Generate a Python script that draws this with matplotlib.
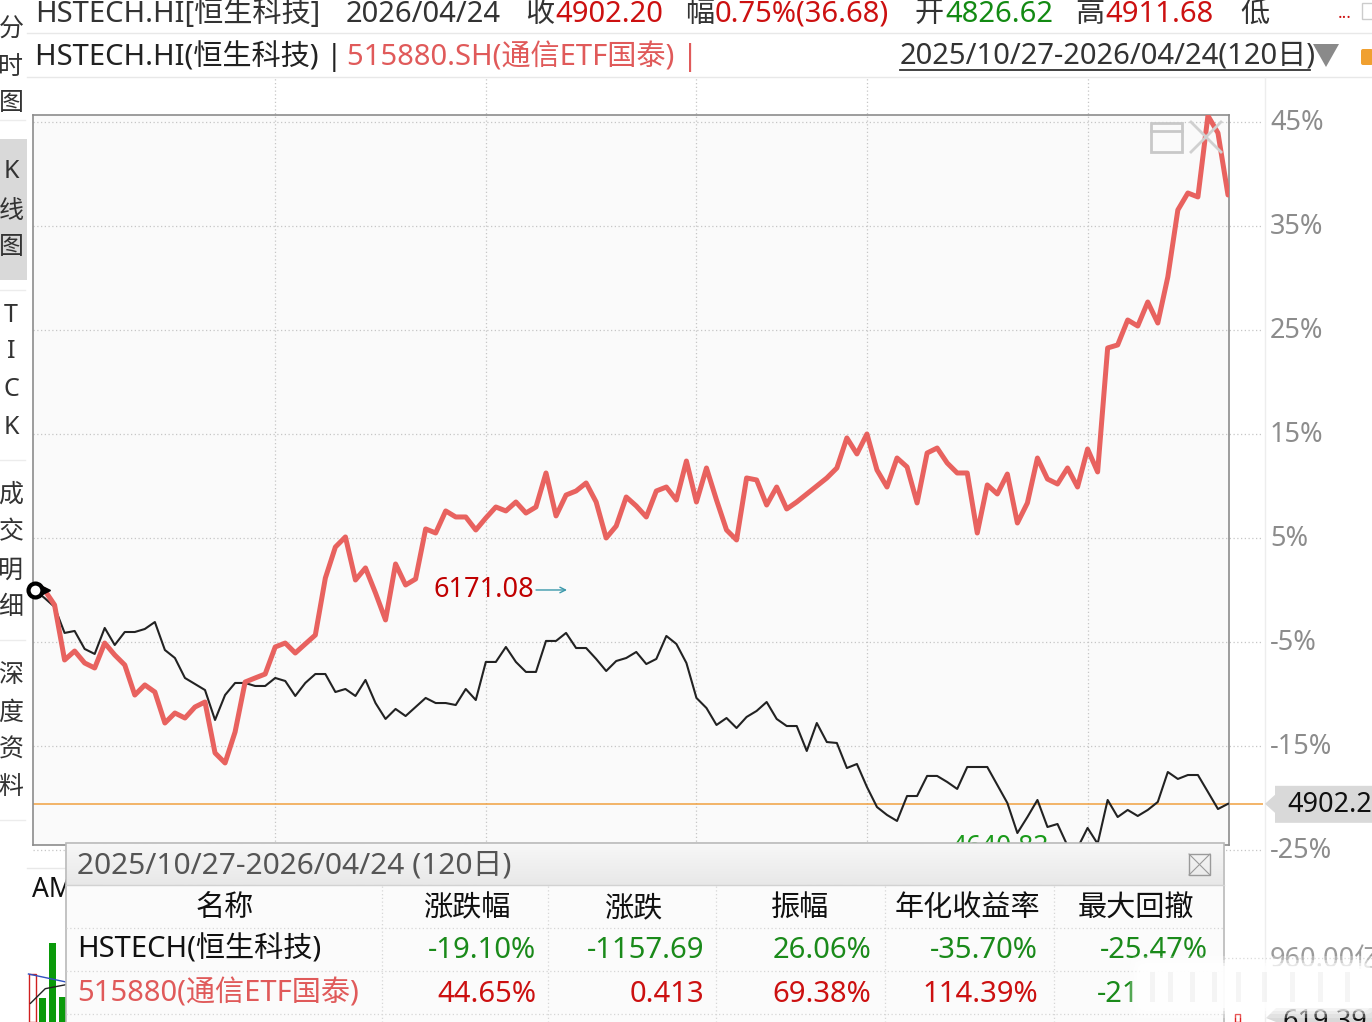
import matplotlib
matplotlib.use("Agg")
import matplotlib.pyplot as plt
import matplotlib.patches as mpatches
from matplotlib.colors import LinearSegmentedColormap
import numpy as np

plt.rcParams['font.family'] = ['Noto Sans', 'Noto Sans CJK SC', 'DejaVu Sans']

W, H = 1372, 1022

# ---------------------------------------------------------------- data
base_close = 6171.08      # HSTECH close on first day (0% line)
last_close = 4902.2
low_close = 4640.83

# HSTECH (恒生科技) cumulative change in %, 120 trading days
hstech_pct = [
    0.00, -0.77, -1.63, -4.13, -3.94, -5.67, -6.15, -3.65, -5.29, -4.04,
    -4.04, -3.75, -3.08, -5.77, -6.54, -8.46, -9.04, -9.62, -12.50, -10.10,
    -8.94, -8.94, -9.23, -9.23, -8.46, -8.75, -10.19, -8.94, -8.08, -8.08,
    -9.81, -9.52, -10.19, -8.65, -10.87, -12.40, -11.44, -12.12, -11.25, -10.38,
    -10.87, -10.87, -11.06, -9.52, -10.58, -6.92, -6.92, -5.48, -6.92, -7.88,
    -7.88, -4.90, -4.90, -4.13, -5.58, -5.58, -6.63, -7.79, -6.83, -6.54,
    -5.96, -7.12, -6.63, -4.42, -5.19, -7.02, -10.38, -11.35, -12.98, -12.31,
    -13.27, -12.21, -11.63, -10.77, -12.40, -13.08, -13.08, -15.48, -12.79, -14.62,
    -14.71, -17.12, -16.73, -18.94, -20.87, -21.63, -22.21, -19.81, -19.81, -17.88,
    -17.88, -18.46, -19.13, -17.02, -17.02, -17.02, -18.75, -20.48, -23.37, -21.83,
    -20.19, -22.79, -22.50, -24.60, -24.80, -22.88, -24.40, -20.19, -21.83, -21.15,
    -21.73, -21.15, -20.38, -17.50, -18.17, -17.79, -17.79, -19.42, -21.06, -20.56,
]

# 515880.SH (通信ETF国泰) cumulative change in %, from day 2
etf_pct = [
    0.00, -1.44, -6.73, -5.87, -7.02, -7.50, -5.10, -6.25, -7.21,
    -10.10, -9.13, -9.81, -12.79, -11.83, -12.31, -11.25, -10.77, -15.67, -16.63,
    -13.65, -8.85, -8.46, -8.08, -5.48, -5.10, -6.06, -5.19, -4.33, 1.15,
    4.13, 5.10, 0.96, 2.12, -0.29, -2.88, 2.50, 0.48, 1.06, 5.87,
    5.48, 7.60, 7.02, 7.02, 5.77, 6.92, 7.98, 7.60, 8.46, 7.40,
    7.98, 11.25, 7.12, 9.13, 9.52, 10.29, 8.46, 5.00, 6.15, 8.94,
    8.08, 7.02, 9.52, 9.90, 8.65, 12.40, 8.46, 11.73, 8.65, 5.77,
    4.81, 10.77, 10.58, 8.17, 9.90, 7.79, 8.46, 9.23, 10.00, 10.77,
    11.73, 14.62, 13.08, 15.00, 11.54, 9.90, 12.69, 11.83, 8.37, 13.17,
    13.65, 12.21, 11.25, 11.25, 5.48, 10.10, 9.23, 11.15, 6.44, 8.37,
    12.69, 10.67, 10.19, 11.73, 9.90, 13.56, 11.35, 23.27, 23.56, 25.96,
    25.38, 27.69, 25.67, 30.10, 36.54, 38.17, 37.79, 45.60, 43.94, 37.98,
]

month_start_idx = [24, 45, 66, 83, 105]
grid_pct = [45, 35, 25, 15, 5, -5, -15, -25]

quote_labels = ['收', '幅', '开', '高', '低']
quote_values = ['4902.20', '0.75%(36.68)', '4826.62', '4911.68', '']

table_cols = ['名称', '涨跌幅', '涨跌', '振幅', '年化收益率', '最大回撤']
row_names = ['HSTECH(恒生科技)', '515880(通信ETF国泰)']
row_hstech = ['-19.10%', '-1157.69', '26.06%', '-35.70%', '-25.47%']
row_etf = ['44.65%', '0.413', '69.38%', '114.39%', '-21']

vol_vals = [720, 360, 1185, 375]
vol_colors = ['red', 'green', 'green', 'green']

# ---------------------------------------------------------------- figure
fig = plt.figure(figsize=(W / 100, H / 100), dpi=100, facecolor='white')

bg = fig.add_axes([0, 0, 1, 1], zorder=0)
bg.set_xlim(0, W)
bg.set_ylim(H, 0)
bg.axis('off')

# main chart frame: x 33..1229, y 115..845 (pixels)
PL, PR, PT, PB = 33, 1229, 115, 845
ax = fig.add_axes([PL / W, 1 - PB / H, (PR - PL) / W, (PB - PT) / H], zorder=1)
ax.set_facecolor('#fafafa')
xlo, xhi = -0.15, 119.1
ylo, yhi = -24.52, 45.67
ax.set_xlim(xlo, xhi)
ax.set_ylim(ylo, yhi)
ax.set_xticks([])
ax.set_yticks([])
for s in ax.spines.values():
    s.set_color('#8c8c8c')
    s.set_linewidth(1.2)


def px_to_idx(px):
    return xlo + (px - PL) / (PR - PL) * (xhi - xlo)


def pct_to_py(v):
    return PT + (yhi - v) / (yhi - ylo) * (PB - PT)


def py_to_pct(py):
    return yhi - (py - PT) / (PB - PT) * (yhi - ylo)


x_all = np.arange(len(hstech_pct))
x_etf = np.arange(1, len(etf_pct) + 1)

# grid
ax.hlines(grid_pct, xlo, px_to_idx(1263), colors='#c6c6c6', linestyles=(0, (1, 2)),
          lw=0.9, clip_on=False, zorder=1)
ax.vlines(month_start_idx, ylo, py_to_pct(77), colors='#c6c6c6', linestyles=(0, (1, 2)),
          lw=0.9, clip_on=False, zorder=1)

# last price line
ax.hlines(hstech_pct[-1], xlo, px_to_idx(1263), colors='#f0a040', lw=1.1,
          clip_on=False, zorder=2)

ax.plot(x_all, hstech_pct, color='#222222', lw=1.5, zorder=3)
ax.plot(x_etf, etf_pct, color='#e8625f', lw=3.6, zorder=4, solid_capstyle='round')

ax.plot([0], [hstech_pct[0]], 'o', ms=10, mfc='white', mec='black', mew=3,
        clip_on=False, zorder=6)
ax.plot([1.1], [0], marker='>', ms=6, color='black', zorder=6)

ax.text(px_to_idx(433), 0, f'{base_close:.2f}', color='#c00000', fontsize=19.5,
        va='center', ha='left', zorder=5)
ax.annotate('', xy=(px_to_idx(567), 0), xytext=(px_to_idx(536), 0),
            arrowprops=dict(arrowstyle='->', color='#3a98aa', lw=1.0,
                            shrinkA=0, shrinkB=0), zorder=5)
i_low = int(np.argmin(hstech_pct))
ax.text(i_low - 2.9, hstech_pct[i_low], f'{low_close:.2f}', color='#1a9a1a',
        fontsize=19, va='center', ha='right', clip_on=False, zorder=5)

# ---------------------------------------------------------------- background decorations
bg.plot([27, W], [33, 33], color='#e8e8e8', lw=1)
bg.plot([27, W], [77, 77], color='#e8e8e8', lw=1)
bg.plot([1265, 1265], [77, H], color='#ededed', lw=1)
bg.plot([27, 66], [868, 868], color='#e8e8e8', lw=1)
bg.plot([1224, W], [958, 958], color='#cfcfcf', lw=0.9, ls=(0, (1, 2)))

# header row 1
dark = '#333333'
red = '#cc1010'
green = '#138a13'
bg.text(35, 14, 'HSTECH.HI[恒生科技]', color=dark, fontsize=21, va='center')
bg.text(346, 14, '2026/04/24', color=dark, fontsize=21, va='center')
q_lab_x = [525, 685, 915, 1075, 1240]
q_val_x = [555, 715, 945, 1105, 1270]
q_val_c = [red, red, green, red, red]
for lx, vx, lab, val, c in zip(q_lab_x, q_val_x, quote_labels, quote_values, q_val_c):
    bg.text(lx, 14, lab, color=dark, fontsize=21, va='center')
    bg.text(vx, 14, val, color=c, fontsize=21, va='center')
bg.text(1338, 14, '...', color=red, fontsize=12, va='center')
bg.add_patch(mpatches.Rectangle((1362, 3), 12, 16, fc='white', ec='#cccccc', lw=1))

# header row 2
bg.text(35, 56, 'HSTECH.HI(恒生科技) |', color='#222222', fontsize=21, va='center')
bg.text(347, 56, '515880.SH(通信ETF国泰) |', color='#e05a5a', fontsize=21, va='center')
bg.text(900, 56, '2025/10/27-2026/04/24(120日)', color=dark, fontsize=21, va='center')
bg.plot([900, 1310], [70, 70], color=dark, lw=1.3)
bg.add_patch(mpatches.Polygon([(1313, 44), (1339, 44), (1326, 67)], closed=True,
                              fc='#8a8a8a', ec='none'))
bg.add_patch(mpatches.FancyBboxPatch((1361, 49), 12, 16, boxstyle='round,pad=0,rounding_size=2',
                                     fc='#f0a030', ec='none'))

# left side tabs
bg.add_patch(mpatches.Rectangle((0, 139), 27, 141, fc='#d9d9d9', ec='none'))
side_chars = [('分', 30), ('时', 68), ('图', 103), ('K', 172), ('线', 212), ('图', 248),
              ('T', 315), ('I', 352), ('C', 390), ('K', 428),
              ('成', 495), ('交', 533), ('明', 571), ('细', 608),
              ('深', 675), ('度', 713), ('资', 750), ('料', 788)]
for ch, yy in side_chars:
    bg.text(11, yy, ch, color='#333333', fontsize=18, va='center', ha='center')
for yy in [120, 290, 460, 640, 820]:
    bg.plot([0, 25], [yy, yy], color='#ececec', lw=1)

bg.text(32, 890, 'AM', color='#111111', fontsize=19, va='center')

# ---------------------------------------------------------------- small volume panel
vax = fig.add_axes([27 / W, 0, 40 / W, (H - 930) / H], zorder=1)
vax.set_xlim(-0.55, 3.5)
vax.set_ylim(0, (H - 930) * 15)
vax.axis('off')
for i, (v, c) in enumerate(zip(vol_vals, vol_colors)):
    if c == 'red':
        vax.bar(i, v, width=0.7, fc='none', ec='#d02020', lw=1.0)
    else:
        vax.bar(i, v, width=0.7, color='#0a9a0a')
vax.plot([-0.4, 3.4], [720, 600], color='#3050c0', lw=1)
vax.plot([-0.2, 1.3, 3.4], [280, 500, 560], color='#222222', lw=1)

# ---------------------------------------------------------------- overlay
ov = fig.add_axes([0, 0, 1, 1], zorder=3)
ov.patch.set_alpha(0)
ov.axis('off')

# right axis labels
for v in grid_pct:
    ov.text(1270, pct_to_py(v) + 1, f'{v}%', color='#8c8c8c', fontsize=19.5, va='center', ha='left')

# last price tag
ly = pct_to_py(hstech_pct[-1])
ov.add_patch(mpatches.Polygon([(1265, ly), (1275, ly - 9), (1275, ly - 18), (W, ly - 18),
                               (W, ly + 19), (1275, ly + 19), (1275, ly + 9)],
                              closed=True, fc='#d9d9d9', ec='none'))
ov.text(1287, ly + 1, f'{last_close:.1f}', color='#111111', fontsize=19.5, va='center')

# window / close icons
ov.add_patch(mpatches.Rectangle((1151, 123), 31, 29, fc='none', ec='#c8c8c8', lw=2))
ov.plot([1151, 1182], [131, 131], color='#c8c8c8', lw=2)
ov.plot([1191, 1221], [122, 152], color='#d0d0d0', lw=2)
ov.plot([1221, 1191], [122, 152], color='#d0d0d0', lw=2)

# statistics table
TL, TR, TT, TB = 66, 1224, 843, H + 2
ov.add_patch(mpatches.Rectangle((TL, TT), TR - TL, TB - TT, fc='#fbfbfb', ec='#b9b9b9', lw=1.2))
grad = np.linspace(0, 1, 40).reshape(-1, 1)
ov.imshow(grad, cmap=LinearSegmentedColormap.from_list('hdr', ['#f7f7f7', '#e8e8e8']),
          extent=(TL + 1, TR - 1, 885, TT + 1), aspect='auto', zorder=1)
ov.plot([TL, TR], [885, 885], color='#d2d2d2', lw=1, zorder=2)
ov.text(77, 866, '2025/10/27-2026/04/24 (120日)', color='#555555', fontsize=21.5,
        va='center', zorder=3)
ov.add_patch(mpatches.Rectangle((1189, 854), 21, 21, fc='none', ec='#9a9a9a', lw=1, zorder=3))
ov.plot([1189, 1210], [854, 875], color='#9a9a9a', lw=0.8, zorder=3)
ov.plot([1210, 1189], [854, 875], color='#9a9a9a', lw=0.8, zorder=3)

col_sep = [382, 548, 716, 885, 1054]
for xs in col_sep:
    ov.plot([xs, xs], [886, H], color='#d6d6d6', lw=0.9, ls=(0, (1, 2)), zorder=2)
for ys in [928, 971, 1014]:
    ov.plot([TL, TR], [ys, ys], color='#d6d6d6', lw=0.9, ls=(0, (1, 2)), zorder=2)

hdr_x = [225, 467, 633, 800, 967, 1136]
for hx, lab in zip(hdr_x, table_cols):
    ov.text(hx, 909, lab, color='#111111', fontsize=21, va='center', ha='center', zorder=3)

val_right = [536, 704, 871, 1038, 1208]
ov.text(77, 950, row_names[0], color='#111111', fontsize=21, va='center', zorder=3)
ov.text(77, 994, row_names[1], color='#e05a5a', fontsize=21, va='center', zorder=3)
for xr, v in zip(val_right, row_hstech):
    ov.text(xr, 950, v, color='#1a8a1a', fontsize=21, va='center', ha='right', zorder=3)
for xr, v in zip(val_right[:-1], row_etf[:-1]):
    ov.text(xr, 994, v, color='#cc1010', fontsize=21, va='center', ha='right', zorder=3)
ov.text(1097, 994, row_etf[-1], color='#1a8a1a', fontsize=21, va='center', ha='left', zorder=3)

# right-bottom labels
ov.text(1270, 960, '960.00亿', color='#9a9a9a', fontsize=19.5, va='center', zorder=3)
ov.add_patch(mpatches.Polygon([(1266, 1018), (1276, 1008), (W, 1008), (W, H), (1276, H)],
                              closed=True, fc='#d9d9d9', ec='none', zorder=3))
ov.text(1282, 1022, '619.39', color='#111111', fontsize=19.5, va='center', zorder=4)
ov.add_patch(mpatches.Rectangle((1235, 1014), 5, 8, fc='none', ec='#e02020', lw=1, zorder=3))

# blurred watermark
for pad, a in [(10, 0.25), (6, 0.35), (3, 0.5), (0, 0.8)]:
    ov.add_patch(mpatches.FancyBboxPatch((1140 - pad, 966 - pad), 228 + 2 * pad, 42 + 2 * pad,
                                         boxstyle='round,pad=0,rounding_size=8',
                                         fc='white', ec='none', alpha=a, zorder=5))
for xs in [1150, 1168, 1190, 1212, 1236, 1262, 1290, 1318, 1345]:
    ov.add_patch(mpatches.Rectangle((xs, 972), 5, 30, fc='#d8d8d8', ec='none', alpha=0.25, zorder=6))

ov.set_xlim(0, W)
ov.set_ylim(H, 0)

fig.savefig('out.png', dpi=100, facecolor='white')
